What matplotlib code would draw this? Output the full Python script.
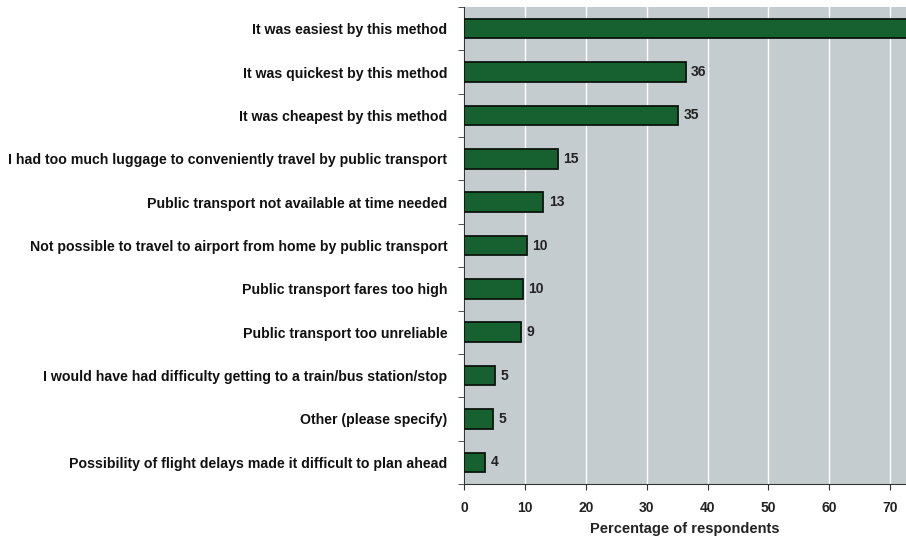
import matplotlib
matplotlib.use("Agg")
import matplotlib.pyplot as plt

categories = [
    "It was easiest by this method",
    "It was quickest by this method",
    "It was cheapest by this method",
    "I had too much luggage to conveniently travel by public transport",
    "Public transport not available at time needed",
    "Not possible to travel to airport from home by public transport",
    "Public transport fares too high",
    "Public transport too unreliable",
    "I would have had difficulty getting to a train/bus station/stop",
    "Other (please specify)",
    "Possibility of flight delays made it difficult to plan ahead",
]
values = [78, 36.4, 35.2, 15.4, 13.0, 10.3, 9.7, 9.3, 5.1, 4.8, 3.5]
labels = ["", "36", "35", "15", "13", "10", "10", "9", "5", "5", "4"]
xticks = [0, 10, 20, 30, 40, 50, 60, 70]

plt.rcParams['font.family'] = ['Liberation Sans', 'DejaVu Sans']
plt.rcParams['font.weight'] = 'bold'

fig = plt.figure(figsize=(9.06, 5.39), dpi=100)
fig.patch.set_facecolor('white')
ax = fig.add_axes([464/906, 1 - 484/539, 1 - 464/906, (484 - 7)/539])
ax.set_facecolor('#c5ccd0')

n = len(categories)
ypos = list(range(n))
ax.barh(ypos, values, height=0.45, color='#17602f', edgecolor='#0b150d',
        linewidth=1.3, zorder=3)
for y, v, lab in zip(ypos, values, labels):
    if lab:
        ax.text(v + 0.9, y, lab, va='center', ha='left', fontsize=10,
                fontweight='bold', color='#222222', zorder=4)

ax.set_xlim(0, 72.6)
ax.set_ylim(n - 0.5, -0.5)
ax.set_xticks(xticks)
ax.set_xticklabels([str(t) for t in xticks], fontsize=10, fontweight='bold', color='#222222')
ax.set_yticks(ypos)
ax.set_yticklabels(categories, fontsize=10.2, fontweight='bold', color='#111111')
ax.tick_params(axis='y', length=0, pad=12)
ax.set_yticks([i + 0.5 for i in range(-1, n)], minor=True)
ax.tick_params(axis='y', which='minor', length=4, direction='out', color='#333333')
ax.tick_params(axis='x', length=4, direction='out', color='#333333', pad=8)

ax.grid(axis='x', color='white', linewidth=1.0, zorder=1)
ax.set_axisbelow(True)
for s in ['top', 'right']:
    ax.spines[s].set_visible(False)
ax.spines['left'].set_color('#333333')
ax.spines['bottom'].set_color('#333333')

ax.set_xlabel("Percentage of respondents", fontsize=10.5, fontweight='bold',
              color='#222222', labelpad=5)

fig.savefig("out.png", dpi=100, facecolor='white')
